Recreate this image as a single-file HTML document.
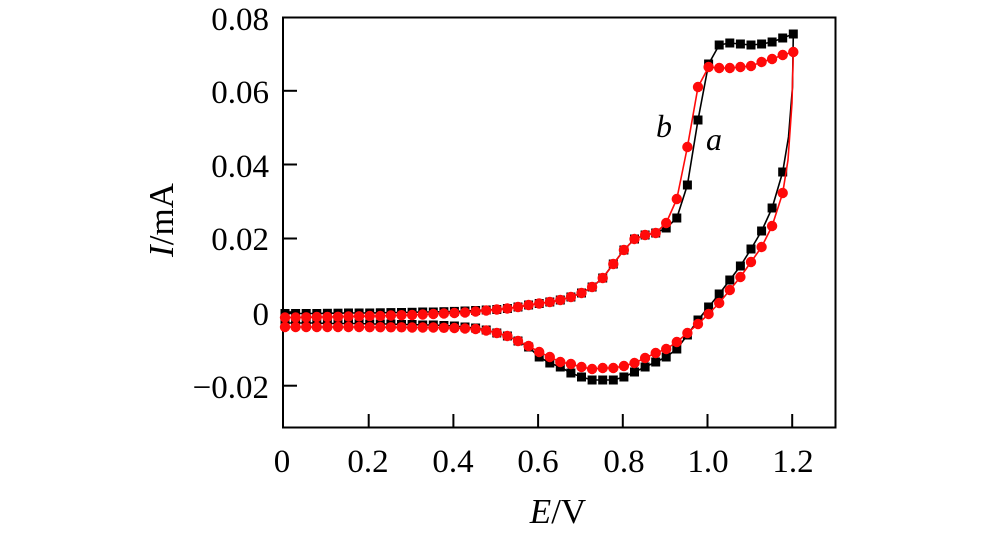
<!DOCTYPE html>
<html>
<head>
<meta charset="utf-8">
<style>
html,body{margin:0;padding:0;background:#fff;}
svg{display:block;}
text{font-family:"Liberation Serif","DejaVu Serif",serif;fill:#000;}
</style>
</head>
<body>
<svg width="1000" height="543" viewBox="0 0 1000 543" xmlns="http://www.w3.org/2000/svg">
<defs>
<marker id="sq" markerWidth="10" markerHeight="10" refX="5" refY="5" markerUnits="userSpaceOnUse" overflow="visible"><rect x="0.5" y="0.5" width="9" height="9" fill="#000"/></marker>
<marker id="ci" markerWidth="12" markerHeight="12" refX="6" refY="6" markerUnits="userSpaceOnUse" overflow="visible"><circle cx="6" cy="6" r="5.2" fill="#ff0a0a"/></marker>
</defs>

<!-- frame -->
<rect x="283" y="17.5" width="552.5" height="410" fill="none" stroke="#000" stroke-width="2"/>
<!-- x ticks -->
<g stroke="#000" stroke-width="2">
<line x1="368.7" y1="428" x2="368.7" y2="414"/>
<line x1="453.4" y1="428" x2="453.4" y2="414"/>
<line x1="538.1" y1="428" x2="538.1" y2="414"/>
<line x1="622.8" y1="428" x2="622.8" y2="414"/>
<line x1="707.5" y1="428" x2="707.5" y2="414"/>
<line x1="792.2" y1="428" x2="792.2" y2="414"/>
<!-- y ticks -->
<line x1="283" y1="385.7" x2="297" y2="385.7"/>
<line x1="283" y1="312.2" x2="297" y2="312.2"/>
<line x1="283" y1="238.5" x2="297" y2="238.5"/>
<line x1="283" y1="164.5" x2="297" y2="164.5"/>
<line x1="283" y1="90.8" x2="297" y2="90.8"/>
</g>

<!-- y tick labels -->
<g font-size="33" text-anchor="end">
<text x="269" y="30">0.08</text>
<text x="269" y="103">0.06</text>
<text x="269" y="177">0.04</text>
<text x="269" y="250">0.02</text>
<text x="269" y="325">0</text>
<text x="269" y="398">−0.02</text>
</g>
<!-- x tick labels -->
<g font-size="33" text-anchor="middle">
<text x="282" y="472">0</text>
<text x="368" y="472">0.2</text>
<text x="453" y="472">0.4</text>
<text x="538" y="472">0.6</text>
<text x="624" y="472">0.8</text>
<text x="708" y="472">1.0</text>
<text x="793" y="472">1.2</text>
</g>
<!-- axis titles -->
<text x="558" y="523" font-size="35" text-anchor="middle"><tspan font-style="italic">E</tspan>/V</text>
<text transform="translate(173,220) rotate(-90)" font-size="35" text-anchor="middle"><tspan font-style="italic">I</tspan>/mA</text>

<!-- curve a (black) line -->
<polyline fill="none" stroke="#000" stroke-width="1.6" stroke-linejoin="round" points="
285,313.5 295.6,313.5 306.2,313.5 316.8,313.5 327.4,313.3 338,313.2 348.5,313 359.1,313 369.7,313 380.3,312.8 390.9,312.6 401.5,312.5 412.1,312.3 422.7,312 433.3,312 443.9,311.7 454.4,311.4 465,311 475.6,310.5 486.2,310 496.8,309.5 507.4,308.5 518,307 528.6,305 539.2,303.5 549.8,302 560.3,300 570.9,297 581.5,293 592.1,287 602.7,278 613.3,264 623.9,250 634.5,239 645.1,235 655.7,233 666.2,228 676.8,218 687.4,185 698,120 708.6,64 719.2,45 729.8,43 740.4,44 751,45 761.6,44 772.1,42 782.7,38 793.3,34
792.5,87 788.5,137
782.7,172 772.1,208 761.6,231 751,249 740.4,266 729.8,280 719.2,294 708.6,307 698,320 687.4,335 676.8,349 666.2,357 655.7,362 645.1,367 634.5,372 623.9,377 613.3,380 602.7,380 592.1,380 581.5,377 570.9,373 560.3,367 549.8,363 539.2,357 528.6,347 518,341 507.4,336 496.8,333 486.2,330 475.6,328 465,327 454.4,326 443.9,325.5 433.3,325 422.7,325 412.1,324.5 401.5,324.5 390.9,324 380.3,324 369.7,324 359.1,323.5 348.5,323.5 338,323.5 327.4,323.5 316.8,323 306.2,323 295.6,323 285,323 285,313.5"/>
<!-- curve a markers -->
<polyline fill="none" stroke="none" marker-start="url(#sq)" marker-mid="url(#sq)" marker-end="url(#sq)" points="
285,313.5 295.6,313.5 306.2,313.5 316.8,313.5 327.4,313.3 338,313.2 348.5,313 359.1,313 369.7,313 380.3,312.8 390.9,312.6 401.5,312.5 412.1,312.3 422.7,312 433.3,312 443.9,311.7 454.4,311.4 465,311 475.6,310.5 486.2,310 496.8,309.5 507.4,308.5 518,307 528.6,305 539.2,303.5 549.8,302 560.3,300 570.9,297 581.5,293 592.1,287 602.7,278 613.3,264 623.9,250 634.5,239 645.1,235 655.7,233 666.2,228 676.8,218 687.4,185 698,120 708.6,64 719.2,45 729.8,43 740.4,44 751,45 761.6,44 772.1,42 782.7,38 793.3,34
782.7,172 772.1,208 761.6,231 751,249 740.4,266 729.8,280 719.2,294 708.6,307 698,320 687.4,335 676.8,349 666.2,357 655.7,362 645.1,367 634.5,372 623.9,377 613.3,380 602.7,380 592.1,380 581.5,377 570.9,373 560.3,367 549.8,363 539.2,357 528.6,347 518,341 507.4,336 496.8,333 486.2,330 475.6,328 465,327 454.4,326 443.9,325.5 433.3,325 422.7,325 412.1,324.5 401.5,324.5 390.9,324 380.3,324 369.7,324 359.1,323.5 348.5,323.5 338,323.5 327.4,323.5 316.8,323 306.2,323 295.6,323 285,323"/>

<!-- curve b (red) line -->
<polyline fill="none" stroke="#ff0a0a" stroke-width="1.6" stroke-linejoin="round" points="
285,317.5 295.6,317.5 306.2,317.3 316.8,317 327.4,317 338,316.8 348.5,316.5 359.1,316.3 369.7,316 380.3,316 390.9,315.5 401.5,315.2 412.1,315 422.7,314.5 433.3,314 443.9,313.5 454.4,313 465,312.5 475.6,311.5 486.2,310.5 496.8,309.5 507.4,308.5 518,307 528.6,305 539.2,303.5 549.8,302 560.3,300 570.9,297 581.5,293 592.1,287 602.7,278 613.3,264 623.9,250 634.5,239 645.1,235 655.7,233 666.2,223 676.8,199 687.4,147 698,87 708.6,67 719.2,68 729.8,68 740.4,67 751,66 761.6,62 772.1,59 782.7,55 793.3,52
792,103 788,160
782.7,193 772.1,226 761.6,247 751,262 740.4,277 729.8,290 719.2,303 708.6,314 698,324 687.4,333 676.8,342 666.2,349 655.7,353 645.1,358 634.5,363 623.9,366 613.3,368 602.7,368 592.1,369 581.5,367 570.9,364 560.3,362 549.8,357 539.2,352 528.6,346 518,341 507.4,336 496.8,333 486.2,330.5 475.6,329 465,328.5 454.4,328 443.9,327.8 433.3,327.5 422.7,327.5 412.1,327.5 401.5,327.3 390.9,327.3 380.3,327.2 369.7,327.2 359.1,327 348.5,327 338,327 327.4,327 316.8,327 306.2,327 295.6,327 285,327 285,317.5"/>
<!-- curve b markers -->
<polyline fill="none" stroke="none" marker-start="url(#ci)" marker-mid="url(#ci)" marker-end="url(#ci)" points="
285,317.5 295.6,317.5 306.2,317.3 316.8,317 327.4,317 338,316.8 348.5,316.5 359.1,316.3 369.7,316 380.3,316 390.9,315.5 401.5,315.2 412.1,315 422.7,314.5 433.3,314 443.9,313.5 454.4,313 465,312.5 475.6,311.5 486.2,310.5 496.8,309.5 507.4,308.5 518,307 528.6,305 539.2,303.5 549.8,302 560.3,300 570.9,297 581.5,293 592.1,287 602.7,278 613.3,264 623.9,250 634.5,239 645.1,235 655.7,233 666.2,223 676.8,199 687.4,147 698,87 708.6,67 719.2,68 729.8,68 740.4,67 751,66 761.6,62 772.1,59 782.7,55 793.3,52
782.7,193 772.1,226 761.6,247 751,262 740.4,277 729.8,290 719.2,303 708.6,314 698,324 687.4,333 676.8,342 666.2,349 655.7,353 645.1,358 634.5,363 623.9,366 613.3,368 602.7,368 592.1,369 581.5,367 570.9,364 560.3,362 549.8,357 539.2,352 528.6,346 518,341 507.4,336 496.8,333 486.2,330.5 475.6,329 465,328.5 454.4,328 443.9,327.8 433.3,327.5 422.7,327.5 412.1,327.5 401.5,327.3 390.9,327.3 380.3,327.2 369.7,327.2 359.1,327 348.5,327 338,327 327.4,327 316.8,327 306.2,327 295.6,327 285,327"/>

<!-- curve labels -->
<text x="656" y="137" font-size="32" font-style="italic">b</text>
<text x="706" y="150" font-size="32" font-style="italic">a</text>
</svg>
</body>
</html>
